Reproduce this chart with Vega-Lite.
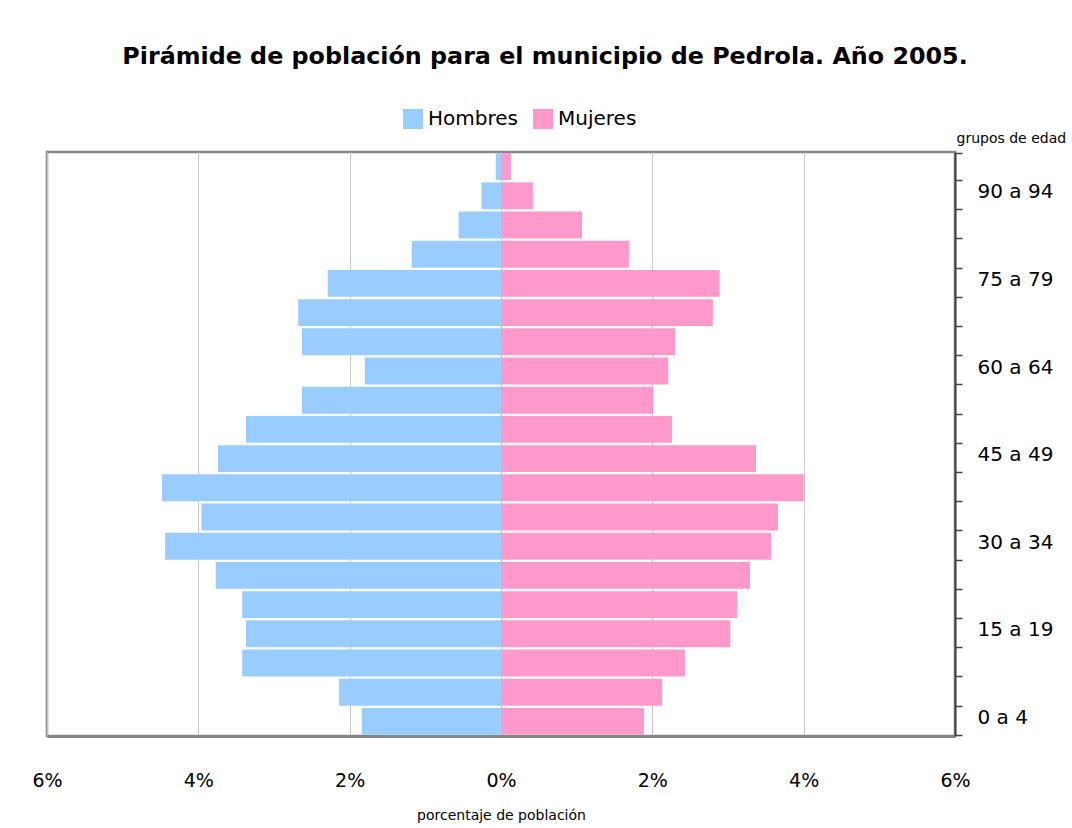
{
  "$schema": "https://vega.github.io/schema/vega-lite/v6.json",
  "width": 908,
  "height": 584,
  "autosize": "none",
  "padding": {"left": 47, "top": 152, "right": 117, "bottom": 92},
  "background": "white",
  "title": {
    "text": "Pirámide de población para el municipio de Pedrola. Año 2005.",
    "font": "DejaVu Sans",
    "fontSize": 23.8,
    "fontWeight": "bold",
    "color": "#000000",
    "anchor": "middle",
    "offset": 40,
    "dx": 44
  },
  "config": {
    "view": {"stroke": "#888888", "strokeWidth": 2.5},
    "font": "DejaVu Sans"
  },
  "data": {
    "values": [
      {"edad": "0 a 4", "sexo": "Hombres", "pct": 1.84},
      {"edad": "5 a 9", "sexo": "Hombres", "pct": 2.14},
      {"edad": "10 a 14", "sexo": "Hombres", "pct": 3.42},
      {"edad": "15 a 19", "sexo": "Hombres", "pct": 3.37},
      {"edad": "20 a 24", "sexo": "Hombres", "pct": 3.42},
      {"edad": "25 a 29", "sexo": "Hombres", "pct": 3.77},
      {"edad": "30 a 34", "sexo": "Hombres", "pct": 4.44},
      {"edad": "35 a 39", "sexo": "Hombres", "pct": 3.96},
      {"edad": "40 a 44", "sexo": "Hombres", "pct": 4.48},
      {"edad": "45 a 49", "sexo": "Hombres", "pct": 3.74},
      {"edad": "50 a 54", "sexo": "Hombres", "pct": 3.37},
      {"edad": "55 a 59", "sexo": "Hombres", "pct": 2.63},
      {"edad": "60 a 64", "sexo": "Hombres", "pct": 1.80},
      {"edad": "65 a 69", "sexo": "Hombres", "pct": 2.63},
      {"edad": "70 a 74", "sexo": "Hombres", "pct": 2.68},
      {"edad": "75 a 79", "sexo": "Hombres", "pct": 2.29},
      {"edad": "80 a 84", "sexo": "Hombres", "pct": 1.18},
      {"edad": "85 a 89", "sexo": "Hombres", "pct": 0.56},
      {"edad": "90 a 94", "sexo": "Hombres", "pct": 0.26},
      {"edad": "95 y más", "sexo": "Hombres", "pct": 0.07},
      {"edad": "0 a 4", "sexo": "Mujeres", "pct": 1.89},
      {"edad": "5 a 9", "sexo": "Mujeres", "pct": 2.13},
      {"edad": "10 a 14", "sexo": "Mujeres", "pct": 2.43},
      {"edad": "15 a 19", "sexo": "Mujeres", "pct": 3.03},
      {"edad": "20 a 24", "sexo": "Mujeres", "pct": 3.12},
      {"edad": "25 a 29", "sexo": "Mujeres", "pct": 3.29},
      {"edad": "30 a 34", "sexo": "Mujeres", "pct": 3.57},
      {"edad": "35 a 39", "sexo": "Mujeres", "pct": 3.66},
      {"edad": "40 a 44", "sexo": "Mujeres", "pct": 4.00},
      {"edad": "45 a 49", "sexo": "Mujeres", "pct": 3.37},
      {"edad": "50 a 54", "sexo": "Mujeres", "pct": 2.26},
      {"edad": "55 a 59", "sexo": "Mujeres", "pct": 2.01},
      {"edad": "60 a 64", "sexo": "Mujeres", "pct": 2.21},
      {"edad": "65 a 69", "sexo": "Mujeres", "pct": 2.30},
      {"edad": "70 a 74", "sexo": "Mujeres", "pct": 2.80},
      {"edad": "75 a 79", "sexo": "Mujeres", "pct": 2.89},
      {"edad": "80 a 84", "sexo": "Mujeres", "pct": 1.69},
      {"edad": "85 a 89", "sexo": "Mujeres", "pct": 1.07},
      {"edad": "90 a 94", "sexo": "Mujeres", "pct": 0.42},
      {"edad": "95 y más", "sexo": "Mujeres", "pct": 0.13}
    ]
  },
  "transform": [
    {"calculate": "datum.sexo === 'Hombres' ? -datum.pct : datum.pct", "as": "valor"}
  ],
  "mark": {"type": "bar"},
  "encoding": {
    "y": {
      "field": "edad",
      "type": "nominal",
      "sort": ["95 y más", "90 a 94", "85 a 89", "80 a 84", "75 a 79", "70 a 74", "65 a 69", "60 a 64", "55 a 59", "50 a 54", "45 a 49", "40 a 44", "35 a 39", "30 a 34", "25 a 29", "20 a 24", "15 a 19", "10 a 14", "5 a 9", "0 a 4"],
      "scale": {"paddingInner": 0.08, "paddingOuter": 0.04},
      "axis": {
        "orient": "right",
        "title": "grupos de edad",
        "titleAngle": 0,
        "titleX": 1,
        "titleY": -14,
        "titleAlign": "left",
        "titleBaseline": "middle",
        "titleFontSize": 14,
        "titleFontWeight": "normal",
        "titleColor": "#000000",
        "titleFont": "DejaVu Sans",
        "tickBand": "extent",
        "ticks": true,
        "tickSize": 7,
        "tickColor": "#444444",
        "tickWidth": 1.5,
        "domainColor": "#444444",
        "domainWidth": 2,
        "grid": false,
        "labelFont": "DejaVu Sans",
        "labelFontSize": 20,
        "labelColor": "#000000",
        "labelPadding": 15,
        "labelOffset": -4,
        "labelOverlap": false,
        "labelExpr": "indexof(['0 a 4','15 a 19','30 a 34','45 a 49','60 a 64','75 a 79','90 a 94'], datum.label) >= 0 ? datum.label : ''"
      }
    },
    "x": {
      "field": "valor",
      "type": "quantitative",
      "scale": {"domain": [-6, 6], "nice": false},
      "axis": {
        "values": [-6, -4, -2, 0, 2, 4, 6],
        "labelExpr": "abs(datum.value) + '%'",
        "labelFont": "DejaVu Sans",
        "labelFontSize": 19,
        "labelColor": "#000000",
        "labelPadding": 35,
        "labelFlush": false,
        "ticks": false,
        "domainColor": "#888888",
        "domainWidth": 3,
        "grid": true,
        "gridColor": "#c8c8c8",
        "gridWidth": 1,
        "title": "porcentaje de población",
        "titleFont": "DejaVu Sans",
        "titleFontSize": 14,
        "titleFontWeight": "normal",
        "titleColor": "#000000",
        "titlePadding": 18
      }
    },
    "color": {
      "field": "sexo",
      "type": "nominal",
      "scale": {"domain": ["Hombres", "Mujeres"], "range": ["#99CCFF", "#FF99CC"]},
      "legend": {
        "orient": "none",
        "direction": "horizontal",
        "legendX": 356,
        "legendY": -43,
        "title": null,
        "symbolType": "square",
        "symbolSize": 400,
        "symbolStrokeWidth": 0,
        "labelFont": "DejaVu Sans",
        "labelFontSize": 20,
        "labelColor": "#000000",
        "labelOffset": 5,
        "columnPadding": 15
      }
    }
  }
}
